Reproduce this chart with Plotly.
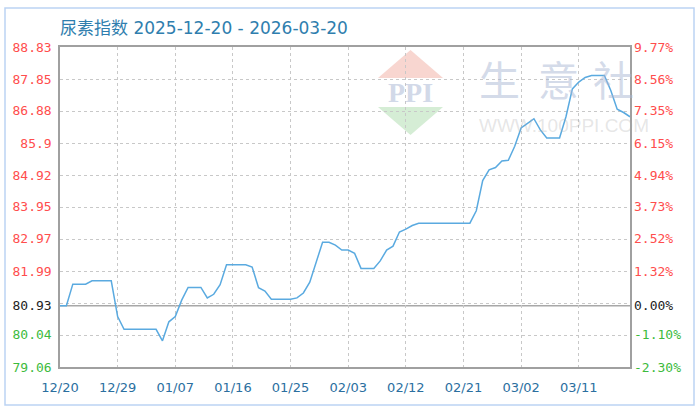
import plotly.graph_objects as go
import pandas as pd

# ---- data ----
dates = pd.date_range("2025-12-20", "2026-03-19", freq="D")
index_values = [
    80.93, 80.93, 81.59, 81.59, 81.59, 81.69, 81.69, 81.69, 81.69, 80.60,
    80.21, 80.21, 80.21, 80.21, 80.21, 80.21, 79.86, 80.44, 80.60, 81.10,
    81.49, 81.49, 81.49, 81.17, 81.28, 81.57, 82.18, 82.18, 82.18, 82.18,
    82.11, 81.48, 81.38, 81.13, 81.13, 81.13, 81.13, 81.17, 81.32, 81.65,
    82.23, 82.87, 82.87, 82.78, 82.63, 82.63, 82.53, 82.07, 82.07, 82.07,
    82.30, 82.63, 82.75, 83.18, 83.27, 83.38, 83.45, 83.45, 83.45, 83.45,
    83.45, 83.45, 83.45, 83.45, 83.45, 83.83, 84.75, 85.08, 85.15, 85.35,
    85.37, 85.80, 86.36, 86.50, 86.64, 86.30, 86.05, 86.05, 86.05, 86.70,
    87.55, 87.76, 87.90, 87.96, 87.96, 87.96, 87.50, 86.93, 86.83, 86.70,
]
base_value = 80.93
left_ticks = [79.06, 80.04, 80.93, 81.99, 82.97, 83.95, 84.92, 85.9, 86.88, 87.85, 88.83]
right_labels = ["-2.30%", "-1.10%", "0.00%", "1.32%", "2.52%", "3.73%", "4.94%",
                "6.15%", "7.35%", "8.56%", "9.77%"]
grid_ticks = [79.06, 80.037, 81.014, 81.991, 82.968, 83.945, 84.922, 85.899, 86.876, 87.853, 88.83]
x_tick_dates = ["2025-12-20", "2025-12-29", "2026-01-07", "2026-01-16", "2026-01-25",
                "2026-02-03", "2026-02-12", "2026-02-21", "2026-03-02", "2026-03-11"]
title_text = "尿素指数 2025-12-20 - 2026-03-20"

RED = "#ff4d4d"
GREEN = "#3dbb3d"
BLACK = "#222222"


def colored(label, v):
    c = RED if v > base_value + 1e-9 else (GREEN if v < base_value - 1e-9 else BLACK)
    return f'<span style="color:{c}">{label}</span>'


left_text = [colored(str(v), v) for v in left_ticks]
right_text = [colored(l, v) for l, v in zip(right_labels, left_ticks)]

yr = [79.06, 88.83]

fig = go.Figure()
fig.add_trace(go.Scatter(
    x=dates, y=index_values, mode="lines",
    line=dict(color="#5aaae0", width=1.5),
    hoverinfo="skip", showlegend=False,
))
# invisible helper traces so the overlay axes exist
fig.add_trace(go.Scatter(x=[dates[0]], y=[base_value], yaxis="y2", mode="markers",
                         marker=dict(opacity=0), showlegend=False, hoverinfo="skip"))
fig.add_trace(go.Scatter(x=[dates[0]], y=[base_value], yaxis="y3", mode="markers",
                         marker=dict(opacity=0), showlegend=False, hoverinfo="skip"))

L, R, T, B = 60, 70, 47, 44
W, H = 700, 411
PW, PH = W - L - R, H - T - B


def px(x):
    return (x - L) / PW


def py(y):
    return (H - B - y) / PH


mono = "DejaVu Sans Mono"

fig.update_layout(
    width=W, height=H,
    margin=dict(l=L, r=R, t=T, b=B),
    paper_bgcolor="white", plot_bgcolor="rgba(0,0,0,0)",
    showlegend=False,
    xaxis=dict(
        type="date",
        range=[dates[0], dates[-1]],
        tickvals=x_tick_dates, tickformat="%m/%d",
        showgrid=True, gridcolor="#c8c8c8", griddash="dot", gridwidth=1,
        showline=True, linecolor="#a0a0a0", linewidth=1.5, mirror=True,
        ticks="", zeroline=False,
        tickfont=dict(family="DejaVu Sans", size=13, color="#2b6f9f"),
        ticklabelstandoff=8,
    ),
    yaxis=dict(
        range=yr, tickvals=left_ticks, ticktext=left_text,
        showgrid=False, zeroline=False,
        showline=True, linecolor="#a0a0a0", linewidth=1.5, mirror=True,
        ticks="", tickfont=dict(family=mono, size=13, color=BLACK),
        ticklabelstandoff=4,
    ),
    yaxis2=dict(
        range=yr, overlaying="y", side="right",
        tickvals=left_ticks, ticktext=right_text,
        showgrid=False, zeroline=False, showline=False, ticks="",
        tickfont=dict(family=mono, size=13, color=BLACK),
        ticklabelstandoff=3,
    ),
    yaxis3=dict(
        range=yr, overlaying="y", side="left",
        tickvals=grid_ticks, showticklabels=False,
        showgrid=True, gridcolor="#c8c8c8", griddash="dot", gridwidth=1,
        zeroline=False, showline=False, ticks="",
    ),
)

shapes = []
# base line
shapes.append(dict(type="line", xref="paper", yref="y", x0=0, x1=1, y0=base_value, y1=base_value,
                   line=dict(color="#a8a8a8", width=1.5), layer="below"))
# outer light-blue frame
shapes.append(dict(type="rect", xref="paper", yref="paper",
                   x0=px(5), x1=px(694), y0=py(405), y1=py(8),
                   line=dict(color="#bcd3f3", width=1.5), fillcolor="rgba(0,0,0,0)", layer="below"))
# PPI logo triangles (watermark)
shapes.append(dict(type="path", xref="paper", yref="paper",
                   path=f"M {px(378)},{py(78)} L {px(410.5)},{py(50)} L {px(443)},{py(78)} Z",
                   fillcolor="#f8d6d0", line=dict(width=0), layer="below"))
shapes.append(dict(type="path", xref="paper", yref="paper",
                   path=f"M {px(378)},{py(107)} L {px(443)},{py(107)} L {px(410.5)},{py(135)} Z",
                   fillcolor="#d5edd5", line=dict(width=0), layer="below"))
fig.update_layout(shapes=shapes)

annotations = [
    dict(text=title_text, xref="paper", yref="paper", x=px(58), y=py(28),
         xanchor="left", yanchor="middle", showarrow=False,
         font=dict(family="DejaVu Sans, Noto Sans CJK SC", size=17, color="#2f7eae")),
    dict(text="<b>PPI</b>", xref="paper", yref="paper", x=px(410.5), y=py(92),
         xanchor="center", yanchor="middle", showarrow=False,
         font=dict(family="Liberation Serif", size=28, color="rgba(165,180,210,0.5)")),
    dict(text="WWW.100PPI.COM", xref="paper", yref="paper", x=px(477), y=py(125),
         xanchor="left", yanchor="middle", showarrow=False,
         font=dict(family="Liberation Sans", size=19, color="rgba(170,170,170,0.3)")),
]
for ch, cx in zip(["生", "意", "社"], [499, 558, 613]):
    annotations.append(dict(text=ch, xref="paper", yref="paper", x=px(cx), y=py(78),
                            xanchor="center", yanchor="middle", showarrow=False,
                            font=dict(family="Noto Sans CJK SC", size=41,
                                      color="rgba(170,183,212,0.5)")))
fig.update_layout(annotations=annotations)

fig.write_html("out.html", config={"displayModeBar": False},
               post_script="document.body.style.margin='0';")
